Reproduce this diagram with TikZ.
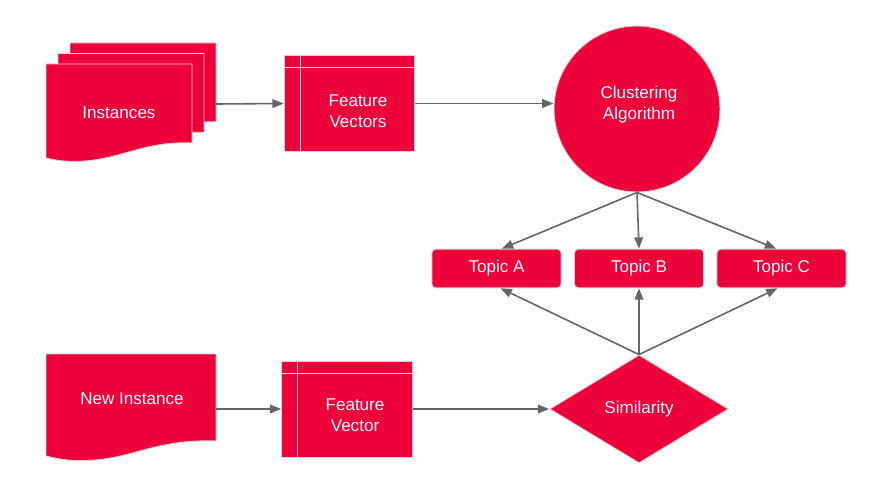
\documentclass[tikz,border=0pt]{standalone}
\usepackage{fontspec}
\setmainfont{Liberation Sans}
\usetikzlibrary{arrows.meta,shapes.geometric}
\definecolor{flowred}{RGB}{238,0,59}
\definecolor{edgegray}{RGB}{212,212,212}
\definecolor{arrowgray}{RGB}{102,102,102}
\tikzset{
  shapefill/.style={fill=flowred, draw=edgegray, line width=0.7pt},
  lbl/.style={text=white, align=center, font=\fontsize{12.8}{16}\selectfont, inner sep=0.75pt},
  feature/.style={shapefill, rectangle, minimum width=98pt, minimum height=72pt, inner sep=0pt,
    path picture={
      \draw[edgegray, line width=0.7pt] ([xshift=12pt]path picture bounding box.north west) -- ([xshift=12pt]path picture bounding box.south west);
      \draw[edgegray, line width=0.7pt] ([yshift=-9pt]path picture bounding box.north west) -- ([yshift=-9pt]path picture bounding box.north east);}},
  topic/.style={shapefill, lbl, rectangle, rounded corners=3pt, minimum width=97pt, minimum height=29pt},
  flow/.style={draw=arrowgray, line width=1.2pt, -{Triangle[length=8.5pt,width=6.5pt]}}
}
\begin{document}
\begin{tikzpicture}[x=0.75pt,y=0.75pt,yscale=-1,xscale=1]
        \useasboundingbox (0,0) rectangle (887,499);
        
        %Shape: Multidocument [Instances]
        \draw [shapefill] (70,43) -- (216,43) -- (216,122) .. controls (189,121) and (174,125) .. (149,132) .. controls (119,141) and (94,143) .. (70,137) -- cycle ;
        \draw [shapefill] (58,53.5) -- (204,53.5) -- (204,132.5) .. controls (177,131.5) and (162,135.5) .. (137,142.5) .. controls (107,151.5) and (82,153.5) .. (58,147.5) -- cycle ;
        \draw [shapefill] (46,64) -- (192,64) -- (192,143) .. controls (165,142) and (150,146) .. (125,153) .. controls (95,162) and (70,164) .. (46,158) -- cycle ;
        %Shape: Document [New Instance]
        \draw [shapefill] (46,354) -- (216,354) -- (216,441) .. controls (185,440) and (165,444) .. (136,452) .. controls (105,461) and (75,464) .. (46,456) -- cycle ;
        
        % Text Node
        \node [lbl] (inst) at (119,113) {Instances};
        \coordinate (inst-e) at (216,104);
        % Text Node
        \node [lbl] (newinst) at (132,399) {New Instance};
        \coordinate (newinst-e) at (216,409);
        
        %Shape: Internal Storage
        \node [feature] (fvs) at (349.5,103.5) {};
        \node [lbl] (fvs-txt) at (358,111) {Feature\\Vectors};
        %Shape: Internal Storage
        \node [feature] (fv) at (347,409) {};
        \node [lbl] (fv-txt) at (355,415) {Feature\\Vector};
        
        %Shape: Circle
        \node [shapefill, circle, minimum size=124.5pt, inner sep=0pt] (clust) at (637,109) {};
        \node [lbl] (clust-txt) at (639,104.5) {Clustering\\Algorithm};
        %Shape: Diamond
        \node [shapefill, lbl, diamond, minimum width=134pt, minimum height=81pt, inner sep=0pt] (sim) at (639,409) {Similarity};
        
        %Shape: Rounded Rectangles
        \node [topic] (topA) at (496.5,268.5) {Topic A};
        \node [topic] (topB) at (639,268.5) {Topic B};
        \node [topic] (topC) at (781.5,268.5) {Topic C};
        
        %Straight Lines
        \draw [flow] (inst-e) -- (fvs.west);
        \draw [flow] (fvs.east) -- (fvs.east -| clust.west);
        \draw [flow] (clust.south) -- ([xshift=4pt]topA.north);
        \draw [flow] (clust.south) -- (topB.north);
        \draw [flow] (clust.south) -- ([xshift=-4pt]topC.north);
        %Straight Lines
        \draw [flow] (sim.north) -- ([xshift=3pt]topA.south);
        \draw [flow] (sim.north) -- (topB.south);
        \draw [flow] (sim.north) -- ([xshift=-3pt]topC.south);
        \draw [flow] (newinst-e) -- (fv.west);
        \draw [flow] (fv.east) -- (sim.west);
        
    \end{tikzpicture}
\end{document}
